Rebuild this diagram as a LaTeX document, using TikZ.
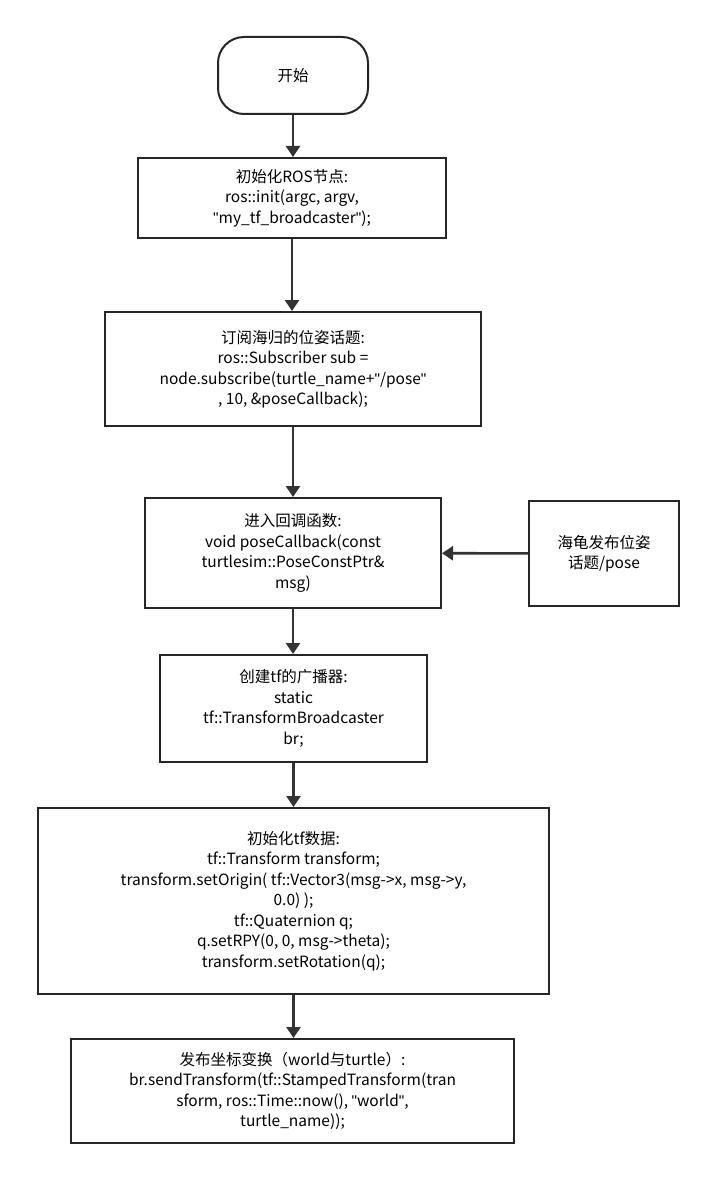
\documentclass[tikz,border=0pt]{standalone}
\usepackage{fontspec}
\setmainfont{Noto Sans CJK SC}
\newfontfamily\qf{Liberation Sans}
\usetikzlibrary{arrows.meta}
\newcommand\dq{{\qf\symbol{34}}}
\begin{document}
\begin{tikzpicture}[x=1pt,y=-1pt,
  box/.style={draw=black!85,line width=2pt,fill=white,align=center,font=\fontsize{15.5}{20.5}\selectfont,inner sep=0pt},
  arr/.style={draw=black!80,line width=2.6pt,-{Triangle[length=11pt,width=14pt]}}]
\useasboundingbox[fill=white] (0,0) rectangle (716,1182);
\node[box,rounded corners=26pt,minimum width=150pt,minimum height=77pt] (s) at (293,75.5) {开始};
\node[box,minimum width=308pt,minimum height=80pt] (b1) at (292,198) {初始化ROS节点:\\ros::init(argc, argv,\\\dq my\_tf\_broadcaster\dq);};
\node[box,minimum width=376pt,minimum height=114pt] (b2) at (293,369) {订阅海归的位姿话题:\\ros::Subscriber sub =\\node.subscribe(turtle\_name+\dq/pose\dq\\, 10, \&poseCallback);};
\node[box,minimum width=296pt,minimum height=110pt] (b3) at (293,553) {进入回调函数:\\void poseCallback(const\\turtlesim::PoseConstPtr\&\\msg)};
\node[box,minimum width=150pt,minimum height=105pt] (sd) at (604,553.5) {海龟发布位姿\\话题/pose};
\node[box,minimum width=267pt,minimum height=107pt] (b4) at (293.5,708.5) {创建tf的广播器:\\static\\tf::TransformBroadcaster\\br;};
\node[box,minimum width=511pt,minimum height=186pt] (b5) at (293.5,901) {初始化tf数据:\\tf::Transform transform;\\transform.setOrigin( tf::Vector3(msg->x, msg->y,\\0.0) );\\tf::Quaternion q;\\q.setRPY(0, 0, msg->theta);\\transform.setRotation(q);};
\node[box,minimum width=443pt,minimum height=104pt] (b6) at (292.5,1091) {发布坐标变换（world与turtle）:\\br.sendTransform(tf::StampedTransform(tran\\sform, ros::Time::now(), \dq world\dq,\\turtle\_name));};
\draw[arr] (s) -- (s|-b1.north);
\draw[arr] (b1) -- (b1|-b2.north);
\draw[arr] (b2) -- (b2|-b3.north);
\draw[arr] (b3) -- (b3|-b4.north);
\draw[arr] (b4) -- (b4|-b5.north);
\draw[arr] (b5) -- (b5|-b6.north);
\draw[arr] (sd) -- (b3);
\end{tikzpicture}
\end{document}
